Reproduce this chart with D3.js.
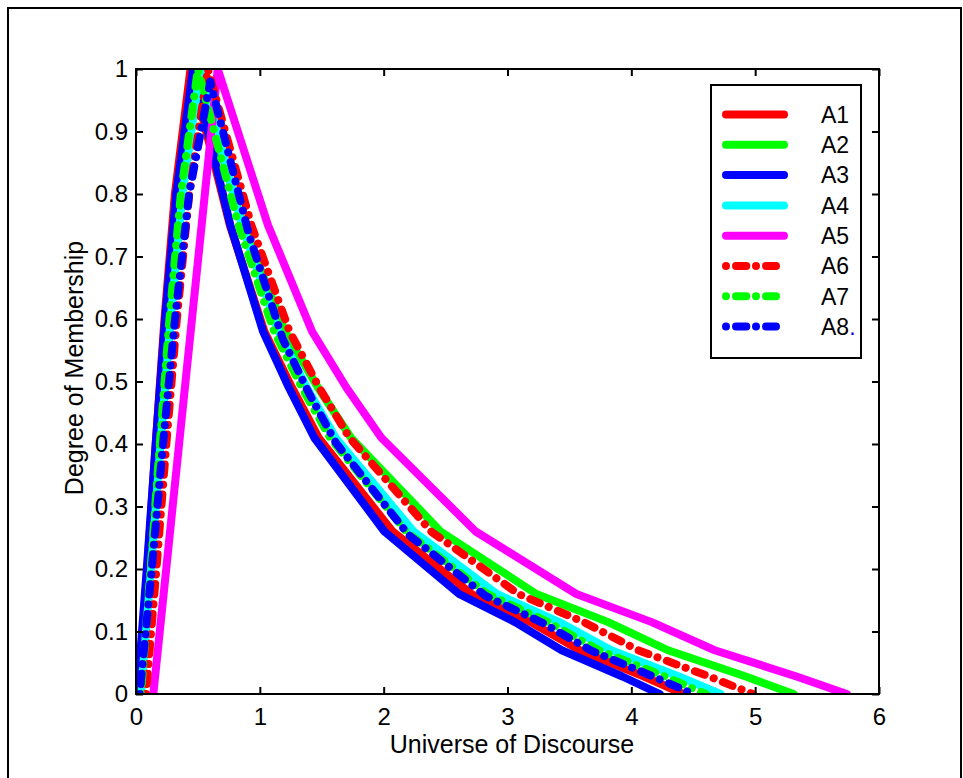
<!DOCTYPE html>
<html>
<head>
<meta charset="utf-8">
<script src="https://cdn.jsdelivr.net/npm/d3@7"></script>
<style>
  body { margin: 0; background: #fff; }
  svg { display: block; }
  text { font-family: "Liberation Sans", Arial, Helvetica, sans-serif; fill: #000; }
</style>
</head>
<body>
<svg id="chart" width="963" height="778"></svg>
<script>
// Membership functions A1..A8: [universe value, degree of membership]
const A1 = [[0.02,0],[0.091,0.2],[0.159,0.4],[0.23,0.6],[0.314,0.8],[0.44,1],
            [0.758,0.75],[1.037,0.58],[1.26,0.49],[1.475,0.41],[2.072,0.26],[2.709,0.16],[3.186,0.115],[3.584,0.07],[4.102,0.028],[4.42,0]];
const A2 = [[0.03,0],[0.107,0.2],[0.179,0.4],[0.255,0.6],[0.345,0.8],[0.48,1],
            [0.866,0.75],[1.205,0.58],[1.47,0.49],[1.736,0.41],[2.46,0.26],[3.233,0.16],[3.813,0.115],[4.296,0.07],[4.924,0.028],[5.31,0]];
const A3 = [[0.01,0],[0.087,0.2],[0.159,0.4],[0.235,0.6],[0.325,0.8],[0.46,1],
            [0.762,0.75],[1.026,0.58],[1.235,0.49],[1.44,0.41],[2.006,0.26],[2.609,0.16],[3.061,0.115],[3.438,0.07],[3.928,0.028],[4.23,0]];
const A4 = [[0.04,0],[0.122,0.2],[0.198,0.4],[0.28,0.6],[0.376,0.8],[0.52,1],
            [0.856,0.75],[1.15,0.58],[1.38,0.49],[1.612,0.41],[2.242,0.26],[2.914,0.16],[3.418,0.115],[3.838,0.07],[4.384,0.028],[4.72,0]];
const A5 = [[0.14,0],[0.244,0.2],[0.348,0.4],[0.452,0.6],[0.556,0.8],[0.66,1],
            [1.066,0.75],[1.422,0.58],[1.70,0.49],[1.981,0.41],[2.743,0.26],[3.556,0.16],[4.165,0.115],[4.673,0.07],[5.334,0.028],[5.74,0]];
const A6 = [[0.08,0],[0.165,0.2],[0.245,0.4],[0.33,0.6],[0.43,0.8],[0.58,1],
            [0.932,0.75],[1.24,0.58],[1.48,0.49],[1.724,0.41],[2.384,0.26],[3.088,0.16],[3.616,0.115],[4.056,0.07],[4.628,0.028],[4.98,0]];
const A7 = [[0.04,0],[0.118,0.2],[0.192,0.4],[0.27,0.6],[0.362,0.8],[0.5,1],
            [0.828,0.75],[1.115,0.58],[1.34,0.49],[1.566,0.41],[2.181,0.26],[2.837,0.16],[3.329,0.115],[3.739,0.07],[4.272,0.028],[4.6,0]];
const A8 = [[0.03,0],[0.127,0.2],[0.218,0.4],[0.315,0.6],[0.429,0.8],[0.6,0.98],
            [0.912,0.735],[1.185,0.568],[1.40,0.48],[1.614,0.402],[2.199,0.255],[2.823,0.157],[3.291,0.113],[3.681,0.069],[4.188,0.027],[4.5,0]];

const seriesNames = ["A1", "A2", "A3", "A4", "A5", "A6", "A7", "A8"];
const seriesValues = [A1, A2, A3, A4, A5, A6, A7, A8];

const xTicks = [0, 1, 2, 3, 4, 5, 6];
const xTickLabels = ["0", "1", "2", "3", "4", "5", "6"];
const yTicks = [0, 0.1, 0.2, 0.3, 0.4, 0.5, 0.6, 0.7, 0.8, 0.9, 1];
const yTickLabels = ["0", "0.1", "0.2", "0.3", "0.4", "0.5", "0.6", "0.7", "0.8", "0.9", "1"];

const xTitle = "Universe of Discourse";
const yTitle = "Degree of Membership";

// line styles, one per series
const seriesColors = ["#ff0000", "#00ff00", "#0000ff", "#00ffff", "#ff00ff", "#ff0000", "#00ff00", "#0000ff"];
const seriesDashed = [false, false, false, false, false, true, true, true];

const W = 963, H = 778;
const plot = { left: 136, right: 879, top: 69, bottom: 694 };
const dashDot = "0.01 9.99 10.3 9.7";
const lineW = 8;

const svg = d3.select("#chart");

// figure frame
svg.append("path")
  .attr("d", `M8,${H + 5}V8H961V${H + 5}`)
  .attr("fill", "none").attr("stroke", "#000").attr("stroke-width", 2);

const x = d3.scaleLinear().domain([0, 6]).range([plot.left, plot.right]);
const y = d3.scaleLinear().domain([0, 1]).range([plot.bottom, plot.top]);

svg.append("defs").append("clipPath").attr("id", "plotClip")
  .append("rect")
  .attr("x", plot.left).attr("y", plot.top)
  .attr("width", plot.right - plot.left).attr("height", plot.bottom - plot.top);

const line = d3.line().x(d => x(d[0])).y(d => y(d[1]));

const curves = svg.append("g").attr("clip-path", "url(#plotClip)");
seriesValues.forEach((vals, i) => {
  curves.append("path")
    .datum(vals)
    .attr("d", line)
    .attr("fill", "none")
    .attr("stroke", seriesColors[i])
    .attr("stroke-width", lineW)
    .attr("stroke-linejoin", "round")
    .attr("stroke-linecap", "round")
    .attr("stroke-dasharray", seriesDashed[i] ? dashDot : null);
});

// axes with inward ticks on all four sides
const tickLen = 7;
const fontTick = 24;

const axBottom = svg.append("g").attr("transform", `translate(0,${plot.bottom})`)
  .call(d3.axisBottom(x).tickValues(xTicks).tickSize(-tickLen).tickPadding(14)
    .tickFormat((d, i) => xTickLabels[i]));
const axTop = svg.append("g").attr("transform", `translate(0,${plot.top})`)
  .call(d3.axisTop(x).tickValues(xTicks).tickSize(-tickLen).tickFormat(""));
const axLeft = svg.append("g").attr("transform", `translate(${plot.left},0)`)
  .call(d3.axisLeft(y).tickValues(yTicks).tickSize(-tickLen).tickPadding(8)
    .tickFormat((d, i) => yTickLabels[i]));
const axRight = svg.append("g").attr("transform", `translate(${plot.right},0)`)
  .call(d3.axisRight(y).tickValues(yTicks).tickSize(-tickLen).tickFormat(""));

[axBottom, axTop, axLeft, axRight].forEach(g => {
  g.select(".domain").remove();
  g.selectAll(".tick line").attr("stroke", "#000").attr("stroke-width", 2);
  g.selectAll(".tick text")
    .attr("font-family", "'Liberation Sans', Arial, sans-serif")
    .attr("font-size", fontTick).attr("fill", "#000");
});

// axes box
svg.append("rect")
  .attr("x", plot.left).attr("y", plot.top)
  .attr("width", plot.right - plot.left).attr("height", plot.bottom - plot.top)
  .attr("fill", "none").attr("stroke", "#000").attr("stroke-width", 2);

// axis titles
svg.append("text")
  .attr("x", 512).attr("y", 753)
  .attr("text-anchor", "middle").attr("font-size", 25)
  .text(xTitle);
svg.append("text")
  .attr("transform", "translate(83,368) rotate(-90)")
  .attr("text-anchor", "middle").attr("font-size", 25)
  .text(yTitle);

// legend
const leg = { x: 711, y: 85, w: 150, h: 273, row0: 114.5, step: 30.3 };
const legend = svg.append("g");
legend.append("rect")
  .attr("x", leg.x).attr("y", leg.y).attr("width", leg.w).attr("height", leg.h)
  .attr("fill", "#fff").attr("stroke", "#000").attr("stroke-width", 2);

seriesNames.forEach((name, i) => {
  const ry = leg.row0 + i * leg.step;
  legend.append("line")
    .attr("x1", 726).attr("x2", seriesDashed[i] ? 776 : 784)
    .attr("y1", ry).attr("y2", ry)
    .attr("stroke", seriesColors[i]).attr("stroke-width", lineW)
    .attr("stroke-linecap", "round")
    .attr("stroke-dasharray", seriesDashed[i] ? dashDot : null);
  const t = legend.append("text")
    .attr("x", 821).attr("y", ry).attr("dy", "0.36em")
    .attr("font-size", 23)
    .text(name);
  if (i === seriesNames.length - 1) {
    t.append("tspan").attr("fill", "#0000ff").text(".");
  }
});
</script>
</body>
</html>
